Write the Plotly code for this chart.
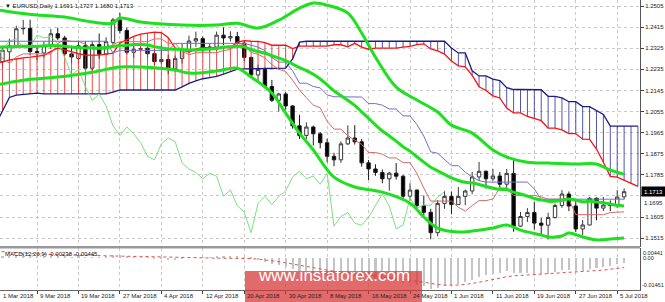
import plotly.graph_objects as go

# ---------------- data (bar index 0 = 1 Mar 2018, 91 = 6 Jul 2018) ----------------
BARS = list(range(92))
OPEN = [1.2193, 1.2268, 1.2310, 1.2336, 1.2408, 1.2410, 1.2311, 1.2305, 1.2336, 1.2387,
        1.2369, 1.2301, 1.2281, 1.2336, 1.2240, 1.2341, 1.2300, 1.2350, 1.2446, 1.2401,
        1.2308, 1.2321, 1.2325, 1.2302, 1.2268, 1.2277, 1.2237, 1.2281, 1.2320, 1.2356,
        1.2366, 1.2326, 1.2330, 1.2381, 1.2369, 1.2375, 1.2347, 1.2286, 1.2211, 1.2234,
        1.2162, 1.2103, 1.2130, 1.2079, 1.1994, 1.1953, 1.1989, 1.1960, 1.1922, 1.1864,
        1.1849, 1.1917, 1.1942, 1.1926, 1.1836, 1.1810, 1.1795, 1.1768, 1.1792, 1.1779,
        1.1694, 1.1720, 1.1654, 1.1625, 1.1538, 1.1663, 1.1693, 1.1658, 1.1693, 1.1716,
        1.1776, 1.1800, 1.1768, 1.1780, 1.1745, 1.1791, 1.1566, 1.1607, 1.1624, 1.1579,
        1.1570, 1.1603, 1.1654, 1.1703, 1.1652, 1.1554, 1.1571, 1.1685, 1.1643, 1.1656,
        1.1655, 1.1691]
HIGH = [1.2274, 1.2335, 1.2366, 1.2421, 1.2446, 1.2447, 1.2335, 1.2355, 1.2408, 1.2413,
        1.2378, 1.2336, 1.2358, 1.2355, 1.2355, 1.2388, 1.2372, 1.2455, 1.2476, 1.2413,
        1.2337, 1.2330, 1.2343, 1.2322, 1.2338, 1.2296, 1.2294, 1.2345, 1.2379, 1.2396,
        1.2375, 1.2345, 1.2396, 1.2414, 1.2397, 1.2395, 1.2355, 1.2289, 1.2255, 1.2243,
        1.2190, 1.2135, 1.2138, 1.2081, 1.2041, 1.2009, 1.1995, 1.1967, 1.1939, 1.1879,
        1.1928, 1.1996, 1.1997, 1.1938, 1.1848, 1.1830, 1.1808, 1.1798, 1.1835, 1.1784,
        1.1749, 1.1722, 1.1697, 1.1640, 1.1677, 1.1717, 1.1714, 1.1733, 1.1722, 1.1797,
        1.1840, 1.1804, 1.1810, 1.1797, 1.1810, 1.1852, 1.1627, 1.1643, 1.1670, 1.1601,
        1.1623, 1.1662, 1.1720, 1.1714, 1.1676, 1.1592, 1.1690, 1.1688, 1.1690, 1.1676,
        1.1720, 1.1727]
LOW = [1.2155, 1.2245, 1.2273, 1.2325, 1.2384, 1.2294, 1.2275, 1.2285, 1.2321, 1.2360,
       1.2293, 1.2261, 1.2260, 1.2239, 1.2229, 1.2280, 1.2298, 1.2343, 1.2388, 1.2299,
       1.2284, 1.2310, 1.2286, 1.2254, 1.2259, 1.2215, 1.2225, 1.2260, 1.2306, 1.2331,
       1.2306, 1.2306, 1.2313, 1.2339, 1.2354, 1.2342, 1.2270, 1.2199, 1.2183, 1.2154,
       1.2096, 1.2055, 1.2063, 1.1982, 1.1938, 1.1938, 1.1910, 1.1898, 1.1838, 1.1822,
       1.1836, 1.1912, 1.1914, 1.1820, 1.1763, 1.1781, 1.1749, 1.1717, 1.1765, 1.1676,
       1.1677, 1.1644, 1.1610, 1.1510, 1.1523, 1.1640, 1.1617, 1.1658, 1.1655, 1.1702,
       1.1759, 1.1726, 1.1760, 1.1730, 1.1726, 1.1542, 1.1562, 1.1584, 1.1552, 1.1530,
       1.1509, 1.1598, 1.1644, 1.1630, 1.1541, 1.1527, 1.1569, 1.1591, 1.1630, 1.1630,
       1.1643, 1.1680]
CLOSE = [1.2268, 1.2317, 1.2336, 1.2408, 1.2410, 1.2311, 1.2307, 1.2336, 1.2387, 1.2369,
         1.2301, 1.2288, 1.2336, 1.2240, 1.2341, 1.2300, 1.2353, 1.2446, 1.2401, 1.2308,
         1.2321, 1.2323, 1.2302, 1.2268, 1.2277, 1.2237, 1.2281, 1.2320, 1.2356, 1.2366,
         1.2326, 1.2330, 1.2381, 1.2369, 1.2375, 1.2347, 1.2286, 1.2211, 1.2234, 1.2162,
         1.2103, 1.2130, 1.2079, 1.1994, 1.1953, 1.1989, 1.1960, 1.1922, 1.1864, 1.1849,
         1.1917, 1.1942, 1.1926, 1.1836, 1.1810, 1.1795, 1.1768, 1.1792, 1.1779, 1.1694,
         1.1720, 1.1654, 1.1625, 1.1538, 1.1663, 1.1693, 1.1658, 1.1693, 1.1716, 1.1776,
         1.1800, 1.1768, 1.1780, 1.1745, 1.1791, 1.1566, 1.1607, 1.1624, 1.1579, 1.1570,
         1.1603, 1.1654, 1.1703, 1.1652, 1.1554, 1.1571, 1.1685, 1.1643, 1.1656, 1.1655,
         1.1690, 1.1713]

# Ichimoku lines (read per bar)
TENKAN = [1.2297, 1.2283, 1.2261, 1.2288, 1.2301, 1.2301, 1.2301, 1.2301, 1.2301, 1.2346,
          1.2360, 1.2354, 1.2354, 1.2343, 1.2321, 1.2321, 1.2321, 1.2342, 1.2353, 1.2353,
          1.2353, 1.2353, 1.2353, 1.2365, 1.2365, 1.2346, 1.2346, 1.2314, 1.2297, 1.2306,
          1.2306, 1.2306, 1.2306, 1.2315, 1.2320, 1.2337, 1.2342, 1.2307, 1.2299, 1.2284,
          1.2255, 1.2235, 1.2226, 1.2189, 1.2147, 1.2114, 1.2083, 1.2071, 1.2014, 1.1980,
          1.1980, 1.1952, 1.1932, 1.1915, 1.1880, 1.1880, 1.1873, 1.1857, 1.1857, 1.1837,
          1.1837, 1.1791, 1.1729, 1.1673, 1.1673, 1.1673, 1.1673, 1.1647, 1.1630, 1.1654,
          1.1675, 1.1675, 1.1682, 1.1729, 1.1729, 1.1697, 1.1697, 1.1697, 1.1697, 1.1691,
          1.1681, 1.1681, 1.1681, 1.1681, 1.1615, 1.1615, 1.1615, 1.1615, 1.1615, 1.1624,
          1.1624, 1.1627]
KIJUN = [1.2355] * 17 + [1.2305] + [1.2316] * 8 + [1.2346] * 11 + \
        [1.2338, 1.2330, 1.2315, 1.2286, 1.2266, 1.2266, 1.2229, 1.2176, 1.2176, 1.2162,
         1.2156, 1.2126, 1.2118, 1.2118, 1.2118, 1.2118, 1.2117, 1.2089, 1.2089, 1.2082,
         1.2066, 1.2066, 1.2037, 1.2036, 1.2000, 1.1950, 1.1883, 1.1877, 1.1850, 1.1824,
         1.1824, 1.1796, 1.1776, 1.1760] + [1.1754] * 7 + [1.1724] + [1.1681] * 10 + [1.1681] * 3
SPAN_A = [1.2262, 1.2266, 1.2275, 1.2281, 1.2284, 1.2287, 1.2290, 1.2295, 1.2312, 1.2326,
          1.2318, 1.2309, 1.2302, 1.2296, 1.2296, 1.2296, 1.2300, 1.2304, 1.2347, 1.2362,
          1.2376, 1.2385, 1.2390, 1.2394, 1.2392, 1.2370, 1.2326, 1.2319, 1.2308, 1.2322,
          1.2328, 1.2328, 1.2328, 1.2328, 1.2328, 1.2351, 1.2358, 1.2355, 1.2354, 1.2349,
          1.2338, 1.2338, 1.2338, 1.2324, 1.2334, 1.2334, 1.2334, 1.2334, 1.2334, 1.2340,
          1.2340, 1.2331, 1.2346, 1.2330, 1.2321, 1.2326, 1.2326, 1.2326, 1.2326, 1.2330,
          1.2333, 1.2341, 1.2344, 1.2322, 1.2314, 1.2300, 1.2271, 1.2250, 1.2246, 1.2209,
          1.2161, 1.2145, 1.2122, 1.2113, 1.2070, 1.2049, 1.2049, 1.2034, 1.2024, 1.2016,
          1.1984, 1.1984, 1.1977, 1.1961, 1.1961, 1.1937, 1.1936, 1.1895, 1.1839, 1.1778,
          1.1775, 1.1761, 1.1748, 1.1736]
SPAN_B = [1.2000, 1.2060, 1.2115, 1.2125, 1.2128, 1.2130, 1.2134, 1.2130, 1.2130, 1.2130,
          1.2130, 1.2130, 1.2130, 1.2130, 1.2130, 1.2130, 1.2130, 1.2138, 1.2147, 1.2147,
          1.2147, 1.2147, 1.2147, 1.2147, 1.2147, 1.2147, 1.2147, 1.2160, 1.2175, 1.2186,
          1.2195, 1.2200, 1.2205, 1.2215, 1.2225, 1.2236, 1.2237, 1.2238, 1.2238, 1.2239,
          1.2239, 1.2240, 1.2240, 1.2280, 1.2351, 1.2355, 1.2355, 1.2355, 1.2355, 1.2355,
          1.2355, 1.2355, 1.2355, 1.2355, 1.2355, 1.2355, 1.2355, 1.2355, 1.2355, 1.2355,
          1.2355, 1.2355, 1.2355, 1.2355, 1.2355, 1.2355, 1.2326, 1.2305, 1.2305, 1.2229,
          1.2207, 1.2207, 1.2193, 1.2187, 1.2157, 1.2149, 1.2149, 1.2149, 1.2149, 1.2148,
          1.2120, 1.2120, 1.2113, 1.2097, 1.2097, 1.2076, 1.2076, 1.2060, 1.2043, 1.1993,
          1.1993, 1.1993, 1.1993, 1.1993]
CLOUD_BARS = list(range(len(SPAN_A)))
CHIKOU_LAG = 26

# Bollinger bands
BB_MID = [1.2330, 1.2330, 1.2331, 1.2333, 1.2334, 1.2333, 1.2333, 1.2335, 1.2337, 1.2336,
          1.2334, 1.2330, 1.2328, 1.2326, 1.2327, 1.2326, 1.2328, 1.2333, 1.2336, 1.2338,
          1.2341, 1.2341, 1.2339, 1.2332, 1.2326, 1.2322, 1.2321, 1.2320, 1.2318, 1.2318,
          1.2320, 1.2322, 1.2324, 1.2330, 1.2332, 1.2334, 1.2331, 1.2319, 1.2311, 1.2304,
          1.2293, 1.2283, 1.2272, 1.2258, 1.2242, 1.2230, 1.2214, 1.2194, 1.2169, 1.2143,
          1.2123, 1.2103, 1.2081, 1.2054, 1.2026, 1.1998, 1.1972, 1.1951, 1.1929, 1.1905,
          1.1886, 1.1862, 1.1839, 1.1817, 1.1802, 1.1787, 1.1772, 1.1761, 1.1753, 1.1750,
          1.1744, 1.1735, 1.1728, 1.1723, 1.1722, 1.1711, 1.1703, 1.1694, 1.1684, 1.1678,
          1.1672, 1.1672, 1.1676, 1.1682, 1.1677, 1.1670, 1.1672, 1.1669, 1.1666, 1.1660,
          1.1655, 1.1652]
BB_UP_BARS = [0, 3, 6, 10, 14, 17, 18, 21, 27, 32, 35, 38, 41, 44, 46, 48, 51, 53, 55, 58,
              61, 64, 66, 69, 72, 74, 77, 80, 84, 87, 89, 91]
BB_UP = [1.2490, 1.2477, 1.2467, 1.2458, 1.2437, 1.2432, 1.2454, 1.2437, 1.2424, 1.2424,
         1.2432, 1.2411, 1.2445, 1.2496, 1.2518, 1.2509, 1.2475, 1.2390, 1.2287, 1.2159,
         1.2104, 1.2053, 1.1997, 1.1963, 1.1891, 1.1861, 1.1839, 1.1835, 1.1831, 1.1831,
         1.1805, 1.1788]
BB_LO_BARS = [0, 4, 9, 14, 18, 21, 26, 28, 32, 35, 37, 40, 42, 44, 46, 49, 52, 56, 60, 62,
              64, 67, 69, 72, 74, 76, 79, 80, 82, 83, 85, 87, 89, 91]
BB_LO = [1.2168, 1.2189, 1.2202, 1.2223, 1.2245, 1.2245, 1.2232, 1.2219, 1.2228, 1.2240,
         1.2202, 1.2134, 1.2048, 1.1963, 1.1891, 1.1775, 1.1733, 1.1711, 1.1664, 1.1605,
         1.1558, 1.1541, 1.1545, 1.1558, 1.1571, 1.1549, 1.1528, 1.1520, 1.1524, 1.1537,
         1.1520, 1.1507, 1.1511, 1.1515]

# MACD(12,26,9)
MACD_MAIN = [0.0005, 0.0007, 0.0009, 0.0013, 0.0016, 0.0012, 0.0009, 0.0008, 0.0010, 0.0010,
             0.0006, 0.0003, 0.0004, -0.0001, 0.0003, 0.0002, 0.0005, 0.0012, 0.0013, 0.0007,
             0.0004, 0.0002, -0.0001, -0.0005, -0.0007, -0.0011, -0.0010, -0.0006, -0.0001, 0.0002,
             0.0002, 0.0002, 0.0005, 0.0006, 0.0007, 0.0006, 0.0002, -0.0006, -0.0010, -0.0018,
             -0.0028, -0.0033, -0.0040, -0.0050, -0.0058, -0.0062, -0.0067, -0.0073, -0.0080, -0.0085,
             -0.0085, -0.0083, -0.0082, -0.0087, -0.0093, -0.0098, -0.0103, -0.0105, -0.0106, -0.0113,
             -0.0116, -0.0122, -0.0128, -0.0140, -0.0137, -0.0130, -0.0125, -0.0118, -0.0110, -0.0099,
             -0.0088, -0.0080, -0.0072, -0.0067, -0.0060, -0.0068, -0.0070, -0.0070, -0.0073, -0.0074,
             -0.0072, -0.0066, -0.0057, -0.0054, -0.0060, -0.0062, -0.0053, -0.0048, -0.0042, -0.0037,
             -0.0030, -0.00238]
MACD_SIGNAL = [0.0030, 0.0027, 0.0024, 0.0022, 0.0020, 0.0019, 0.0017, 0.0016, 0.0015, 0.0014,
               0.0013, 0.0012, 0.0012, 0.0011, 0.0010, 0.0009, 0.0009, 0.0008, 0.0008, 0.0007,
               0.0006, 0.0006, 0.0005, 0.0004, 0.0003, 0.0002, 0.0001, 0.0000, 0.0000, -0.0001,
               -0.0001, -0.0002, -0.0002, -0.0002, -0.0002, -0.0002, -0.0003, -0.0004, -0.0006, -0.0009,
               -0.0013, -0.0018, -0.0023, -0.0029, -0.0035, -0.0040, -0.0045, -0.0050, -0.0056, -0.0061,
               -0.0066, -0.0069, -0.0072, -0.0075, -0.0079, -0.0083, -0.0087, -0.0091, -0.0094, -0.0098,
               -0.0102, -0.0106, -0.0111, -0.0117, -0.0121, -0.0124, -0.0125, -0.0124, -0.0121, -0.0117,
               -0.0111, -0.0105, -0.0098, -0.0092, -0.0086, -0.0082, -0.0080, -0.0078, -0.0077, -0.0076,
               -0.0075, -0.0073, -0.0070, -0.0067, -0.0066, -0.0065, -0.0062, -0.0059, -0.0056, -0.0052,
               -0.0048, -0.00445]

PRICE_TICKS = [1.1515, 1.1605, 1.1695, 1.1785, 1.1875, 1.1965, 1.2055, 1.2145, 1.2235,
               1.2325, 1.2415, 1.2505]
DATE_BARS = [0, 6, 12, 18, 24, 30, 36, 42, 48, 54, 60, 66, 72, 78, 84, 90]
DATE_LABELS = ["1 Mar 2018", "9 Mar 2018", "19 Mar 2018", "27 Mar 2018", "4 Apr 2018",
               "12 Apr 2018", "20 Apr 2018", "30 Apr 2018", "8 May 2018", "16 May 2018",
               "24 May 2018", "1 Jun 2018", "11 Jun 2018", "19 Jun 2018", "27 Jun 2018",
               "5 Jul 2018"]
TITLE = "\u25BC EURUSD,Daily 1.1691 1.1727 1.1680 1.1713"
MACD_TITLE = "MACD(12,26,9) -0.00238 -0.00445"
LAST_PRICE = 1.1713
MACD_MAX, MACD_MIN = 0.00441, -0.01461

# ---------------- figure ----------------
X0, X1 = 0.64, 93.3
Y0, Y1 = 1.1477, 1.2531
FONT = "Liberation Sans, Arial, sans-serif"

fig = go.Figure()

# cloud hatch (one vertical line per bar)
rx, ry, bx, by = [], [], [], []
for j, a, b in zip(CLOUD_BARS, SPAN_A, SPAN_B):
    if a >= b:
        rx += [j, j, None]; ry += [a, b, None]
    else:
        bx += [j, j, None]; by += [a, b, None]
fig.add_trace(go.Scatter(x=rx, y=ry, mode="lines", line=dict(color="rgba(235,40,40,0.85)", width=1),
                         hoverinfo="skip"))
fig.add_trace(go.Scatter(x=bx, y=by, mode="lines", line=dict(color="rgba(40,40,150,0.8)", width=1),
                         hoverinfo="skip"))
fig.add_trace(go.Scatter(x=CLOUD_BARS, y=SPAN_A, mode="lines", line=dict(color="#ff1010", width=1.3)))
fig.add_trace(go.Scatter(x=CLOUD_BARS, y=SPAN_B, mode="lines", line=dict(color="#1c1c84", width=1.3)))

# chikou, tenkan, kijun
fig.add_trace(go.Scatter(x=[b - CHIKOU_LAG for b in BARS[CHIKOU_LAG:]], y=CLOSE[CHIKOU_LAG:],
                         mode="lines", line=dict(color="#7be07b", width=1)))
fig.add_trace(go.Scatter(x=BARS, y=TENKAN, mode="lines", line=dict(color="#d86a6a", width=1)))
fig.add_trace(go.Scatter(x=BARS, y=KIJUN, mode="lines", line=dict(color="#7070c8", width=1)))

# Bollinger
GREEN = "#1ee01e"
fig.add_trace(go.Scatter(x=BB_UP_BARS, y=BB_UP, mode="lines", line=dict(color=GREEN, width=3, shape="spline")))
fig.add_trace(go.Scatter(x=BARS, y=BB_MID, mode="lines", line=dict(color=GREEN, width=3, shape="spline")))
fig.add_trace(go.Scatter(x=BB_LO_BARS, y=BB_LO, mode="lines", line=dict(color=GREEN, width=3, shape="spline")))

# candles
fig.add_trace(go.Candlestick(x=BARS, open=OPEN, high=HIGH, low=LOW, close=CLOSE,
                             increasing=dict(line=dict(color="#3a3a3a", width=1), fillcolor="white"),
                             decreasing=dict(line=dict(color="#1a1a1a", width=1), fillcolor="black"),
                             whiskerwidth=0))

# MACD panel
fig.add_trace(go.Bar(x=BARS, y=MACD_MAIN, marker=dict(color="#c4c4c4", line=dict(width=0)),
                     width=0.3, xaxis="x2", yaxis="y2"))
fig.add_trace(go.Scatter(x=BARS, y=MACD_SIGNAL, mode="lines", line=dict(color="#e05050", width=1, dash="dot"),
                         xaxis="x2", yaxis="y2"))

W, H = 665, 302
ML, MR, MT, MB = 0, 25, 0, 12
PH = H - MT - MB
main_bottom = (PH - 247) / PH
macd_top = (PH - 248) / PH

GRID = "#c9c9c9"
TICK_TEXT = ["" if abs(v - 1.1695) < 1e-9 else "%.4f" % v for v in PRICE_TICKS]
fig.update_layout(
    width=W, height=H, margin=dict(l=ML, r=MR, t=MT, b=MB),
    paper_bgcolor="white", plot_bgcolor="white", showlegend=False,
    font=dict(family=FONT, size=6, color="black"),
    xaxis=dict(domain=[0, 1], range=[X0, X1], anchor="y", rangeslider=dict(visible=False),
               tickvals=DATE_BARS, showticklabels=False, ticks="", showgrid=True, gridcolor=GRID,
               griddash="dot", gridwidth=1, zeroline=False, showline=False),
    yaxis=dict(domain=[main_bottom, 1], range=[Y0, Y1], side="right", tickvals=PRICE_TICKS,
               ticktext=TICK_TEXT, ticks="outside", ticklen=3,
               tickcolor="#444", tickfont=dict(size=6, family=FONT, color="#222"),
               showgrid=True, gridcolor=GRID, griddash="dot", zeroline=False,
               showline=True, linecolor="#555", linewidth=1),
    xaxis2=dict(domain=[0, 1], range=[X0, X1], anchor="y2", matches="x", tickvals=DATE_BARS,
                showticklabels=False, ticks="outside", ticklen=3, tickcolor="#444",
                showgrid=True, gridcolor=GRID, griddash="dot", zeroline=False,
                showline=True, linecolor="#666", linewidth=1),
    yaxis2=dict(domain=[0, macd_top], range=[MACD_MIN, MACD_MAX], side="right",
                showticklabels=False, showgrid=False, zeroline=False,
                showline=True, linecolor="#555", linewidth=1),
    bargap=0,
)

shapes = [
    dict(type="line", xref="paper", yref="paper", x0=0, x1=1, y0=main_bottom, y1=main_bottom,
         line=dict(color="#777", width=1.5)),
    dict(type="line", xref="paper", yref="paper", x0=0, x1=1, y0=macd_top, y1=macd_top,
         line=dict(color="#999", width=1)),
    dict(type="rect", xref="paper", yref="paper", x0=245 / 640, x1=422 / 640,
         y0=(PH - 302) / PH, y1=(PH - 271) / PH, fillcolor="rgba(214,48,48,0.72)",
         line=dict(width=0), layer="above"),
]
fig.update_layout(shapes=shapes)

SMALL = dict(size=6, family=FONT, color="#222")
ann = []
for b, t in zip(DATE_BARS, DATE_LABELS):
    ann.append(dict(x=max(b, X0), xref="x2", y=0, yref="paper", yanchor="top", xanchor="left",
                    text=t, showarrow=False, font=SMALL, xshift=1, yshift=-1))
ann.append(dict(x=0.004, xref="paper", y=1, yref="paper", xanchor="left", yanchor="top",
                text=TITLE, showarrow=False, font=dict(size=6, family=FONT, color="#111"), yshift=-1))
ann.append(dict(x=0.004, xref="paper", y=macd_top, yref="paper", xanchor="left", yanchor="top",
                text=MACD_TITLE, showarrow=False, font=dict(size=6, family=FONT, color="#111"), yshift=-1))
ann.append(dict(x=1, xref="paper", y=MACD_MAX, yref="y2", xanchor="left", yanchor="top",
                text="0.00441", showarrow=False, font=dict(size=5.5, family=FONT, color="#222"), xshift=1))
ann.append(dict(x=1, xref="paper", y=0, yref="y2", xanchor="left", yanchor="middle",
                text="0.00", showarrow=False, font=dict(size=5.5, family=FONT, color="#222"), xshift=1))
ann.append(dict(x=1, xref="paper", y=MACD_MIN, yref="y2", xanchor="left", yanchor="bottom",
                text="-0.01461", showarrow=False, font=dict(size=5.5, family=FONT, color="#222"), xshift=0))
ann.append(dict(x=1, xref="paper", y=1.1695, yref="y", xanchor="left", yanchor="top",
                text="1.1695", showarrow=False, font=SMALL, xshift=2, yshift=-2))
ann.append(dict(x=1, xref="paper", y=LAST_PRICE, yref="y", xanchor="left", yanchor="middle",
                text="1.1713", showarrow=False, bgcolor="black", borderpad=0, width=23, height=9,
                font=dict(size=6, family=FONT, color="white"), xshift=1))
ann.append(dict(x=(245 + 422) / 2 / 640, xref="paper", y=(PH - 286.5) / PH, yref="paper",
                text="www.instaforex.com", showarrow=False,
                font=dict(size=17, family=FONT, color="white")))
fig.update_layout(annotations=ann)

fig.write_html("out.html")
